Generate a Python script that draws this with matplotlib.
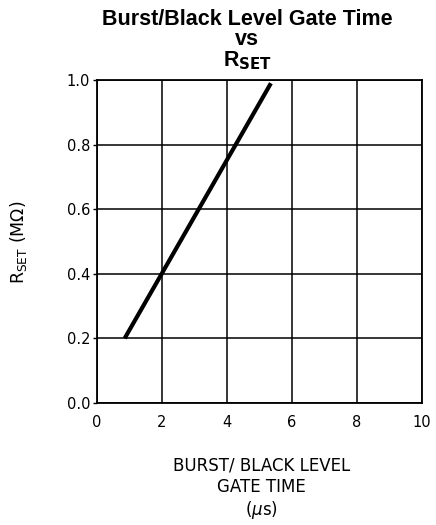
import matplotlib.pyplot as plt

# Data
gate_time_us = [0.85, 5.35]
rset_mohm = [0.2, 0.99]

x_ticks = [0, 2, 4, 6, 8, 10]
y_ticks = [0.0, 0.2, 0.4, 0.6, 0.8, 1.0]

fig = plt.figure(figsize=(4.36, 5.25), dpi=100)
ax = fig.add_axes([0.2225, 0.2324, 0.7455, 0.6152])

ax.plot(gate_time_us, rset_mohm, color='black', linewidth=3, solid_capstyle='butt')

ax.set_xlim(0, 10)
ax.set_ylim(0, 1.0)
ax.set_xticks(x_ticks)
ax.set_yticks(y_ticks)
ax.set_xticklabels([str(t) for t in x_ticks], fontsize=10.5)
ax.set_yticklabels(['%.1f' % t for t in y_ticks], fontsize=10.5)
ax.tick_params(axis='x', length=0, pad=9)
ax.tick_params(axis='y', length=3, width=1, pad=2)

ax.grid(True, color='black', linewidth=1.1)
for s in ax.spines.values():
    s.set_linewidth(1.3)

title_kw = dict(ha='center', va='center', fontsize=15.5, fontweight='bold',
                family='Liberation Sans')
fig.text(0.567, 0.962, 'Burst/Black Level Gate Time', **title_kw)
fig.text(0.567, 0.925, 'vs', **title_kw)
fig.text(0.567, 0.884, r'R$_{\mathbf{SET}}$', **title_kw)

fig.text(0.042, 0.539, r'R$_{\mathrm{SET}}$ (M$\Omega$)', rotation=90,
         ha='center', va='center', fontsize=12.5)

fig.text(0.599, 0.069, 'BURST/ BLACK LEVEL\nGATE TIME\n($\\mu$s)', ha='center',
         va='center', fontsize=12, linespacing=1.2)

plt.savefig('out.png', dpi=100)
plt.close()
